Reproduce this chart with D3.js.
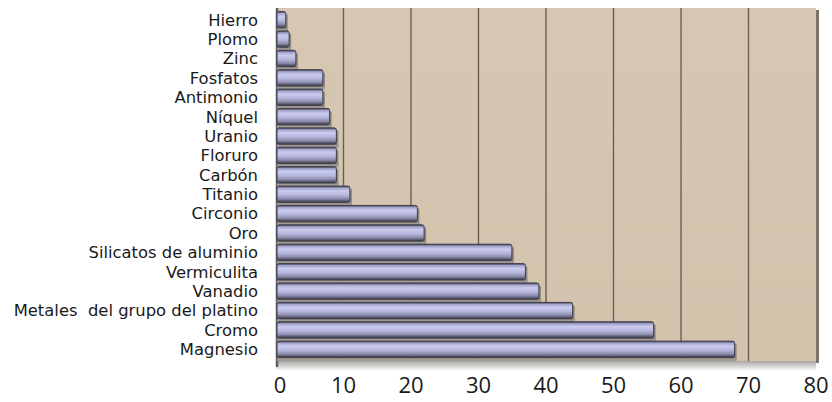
<!DOCTYPE html>
<html><head><meta charset="utf-8">
<script src="https://cdn.jsdelivr.net/npm/d3@7"></script>
<style>
html,body{margin:0;padding:0;background:#fff;}
svg{display:block;}
</style></head>
<body>
<svg id="chart" width="832" height="402"></svg>
<script>
const categories = ["Hierro","Plomo","Zinc","Fosfatos","Antimonio","Níquel","Uranio","Floruro","Carbón","Titanio","Circonio","Oro","Silicatos de aluminio","Vermiculita","Vanadio","Metales  del grupo del platino","Cromo","Magnesio"];
const values = [1, 1.5, 2.5, 6.5, 6.5, 7.5, 8.5, 8.5, 8.5, 10.5, 20.5, 21.5, 34.5, 36.5, 38.5, 43.5, 55.5, 67.5];
const tickValues = [0,10,20,30,40,50,60,70,80];

const svg = d3.select("#chart");
const x = d3.scaleLinear().domain([0,80]).range([276,816]);
const y = d3.scaleBand().domain(categories).range([10,359]).paddingInner(0.16).paddingOuter(0.08);
const wallTop = 8, wallBottom = 361;

const defs = svg.append("defs");
const bg = defs.append("linearGradient").attr("id","wall").attr("x1",0).attr("y1",0).attr("x2",0).attr("y2",1);
bg.append("stop").attr("offset","0%").attr("stop-color","#d6c7b2");
bg.append("stop").attr("offset","100%").attr("stop-color","#d3c3ad");
const fl = defs.append("linearGradient").attr("id","floor").attr("x1",0).attr("y1",0).attr("x2",0).attr("y2",1);
fl.append("stop").attr("offset","0%").attr("stop-color","#a9a7a4");
fl.append("stop").attr("offset","100%").attr("stop-color","#f4f4f4");
const bar = defs.append("linearGradient").attr("id","bar").attr("x1",0).attr("y1",0).attr("x2",0).attr("y2",1);
[["0%","#3c3c4c"],["12%","#a2a3ca"],["30%","#cacbef"],["55%","#b6b7dc"],["78%","#8d8ead"],["92%","#55566a"],["100%","#3a3a48"]]
  .forEach(s=>bar.append("stop").attr("offset",s[0]).attr("stop-color",s[1]));

// back wall
svg.append("rect").attr("x",x(0)).attr("y",wallTop).attr("width",x(80)-x(0)).attr("height",wallBottom-wallTop).attr("fill","url(#wall)");
// floor
svg.append("rect").attr("x",x(0)).attr("y",wallBottom).attr("width",x(80)-x(0)).attr("height",9).attr("fill","url(#floor)");
// right edge shadow
svg.append("rect").attr("x",x(80)).attr("y",wallTop+2).attr("width",3).attr("height",wallBottom-wallTop).attr("fill","#7d7368");
// gridlines
svg.append("g").selectAll("line").data(tickValues.slice(1,-1)).join("line")
  .attr("x1",d=>x(d)).attr("x2",d=>x(d)).attr("y1",wallTop).attr("y2",wallBottom)
  .attr("stroke","#6c6052").attr("stroke-width",1.4);
// left wall
svg.append("line").attr("x1",x(0)+1).attr("x2",x(0)+1).attr("y1",wallTop).attr("y2",wallBottom+6)
  .attr("stroke","#5e5e66").attr("stroke-width",2.5);

// bar shadows / depth
const g = svg.append("g");
g.selectAll("rect.sh").data(values).join("rect").attr("class","sh")
  .attr("x",x(0)+3).attr("y",(d,i)=>y(categories[i])+3)
  .attr("width",d=>x(d)-x(0)+2).attr("height",y.bandwidth())
  .attr("fill","#777068").attr("opacity",0.75);
g.selectAll("rect.sh2").data(values).join("rect").attr("class","sh2")
  .attr("x",x(0)+1).attr("y",(d,i)=>y(categories[i])+y.bandwidth()+1)
  .attr("width",d=>x(d)-x(0)+4).attr("height",2.5)
  .attr("fill","#a09a94");
// bars front
g.selectAll("rect.b").data(values).join("rect").attr("class","b")
  .attr("x",x(0)+1).attr("y",(d,i)=>y(categories[i]))
  .attr("width",d=>x(d)-x(0)+2).attr("height",y.bandwidth())
  .attr("rx",2)
  .attr("fill","url(#bar)").attr("stroke","#3e3e4c").attr("stroke-width",1);

// category labels
svg.append("g").selectAll("text").data(categories).join("text")
  .attr("x",258).attr("y",d=>y(d)+y.bandwidth()/2).attr("dy","0.36em")
  .attr("text-anchor","end")
  .style("font-family","'DejaVu Sans', sans-serif").style("font-size","16.4px").attr("fill","#1a1a1a")
  .style("white-space","pre")
  .text(d=>d);

// x tick labels
svg.append("g").selectAll("text").data(tickValues).join("text")
  .attr("x",d=>x(d)+ (d===0?4:0)).attr("y",385).attr("dy","0.36em")
  .attr("text-anchor","middle")
  .style("font-family","'Open Sans', sans-serif").style("font-size","22px").attr("fill","#1a1a1a")
  .text(d=>d);
</script>
</body></html>
